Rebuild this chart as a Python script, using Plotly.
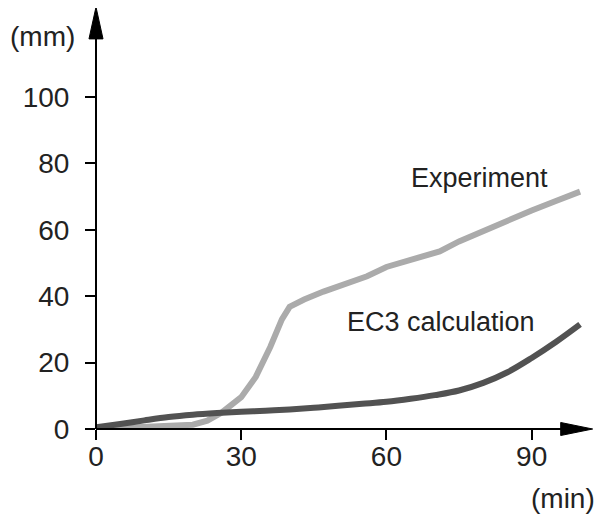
import plotly.graph_objects as go

# deflection curves
time_exp = [0, 10, 20, 23, 26, 30, 33, 36, 38.4, 40, 43, 47, 52.5, 56, 60, 65, 71, 75, 80, 85, 90, 95, 100]
defl_exp = [0, 0.6, 1.3, 2.5, 5, 9.6, 15.7, 24.7, 33, 36.8, 39, 41.4, 44, 46, 48.8, 51, 53.5, 56.5, 59.7, 62.8, 65.8, 68.7, 71.5]

time_ec3 = [0, 5, 10, 15, 20, 25, 30, 35, 40, 45, 50, 55, 60, 65, 70, 75, 80, 85, 90, 95, 100]
defl_ec3 = [0.5, 1.5, 2.6, 3.6, 4.3, 4.8, 5.2, 5.5, 5.9, 6.4, 7, 7.6, 8.2, 9.1, 10.2, 11.6, 13.9, 17.1, 21.4, 26.2, 31.5]

x_ticks = [0, 30, 60, 90]
y_ticks = [0, 20, 40, 60, 80, 100]

px_x = 4.843   # pixels per minute
px_y = 3.32    # pixels per mm
x0_px = 88     # origin inside the figure (page adds 8px body margin)
y0_px = 421
x_max = 103.5
y_max = y0_px / px_y

fnt = "Liberation Sans, Arial, sans-serif"


def px(x):
    return x / x_max


def py(y):
    return y / y_max


fig = go.Figure()
fig.add_trace(go.Scatter(x=time_exp, y=defl_exp, mode="lines",
                         line=dict(color="#ababab", width=6), cliponaxis=False))
fig.add_trace(go.Scatter(x=time_ec3, y=defl_ec3, mode="lines",
                         line=dict(color="#525252", width=6, shape="spline", smoothing=1.0),
                         cliponaxis=False))

# axis lines with arrow heads (paper refs so nothing gets clipped)
fig.add_shape(type="line", xref="paper", yref="paper", x0=0, y0=0, x1=px(97), y1=0,
              line=dict(color="black", width=2))
fig.add_shape(type="line", xref="paper", yref="paper", x0=0, y0=0, x1=0, y1=py(118),
              line=dict(color="black", width=2))
fig.add_shape(type="path", xref="paper", yref="paper",
              path=f"M {px(96)},{py(-1.96)} L {px(102.6)},0 L {px(96)},{py(1.96)} Z",
              fillcolor="black", line=dict(color="black", width=1))
fig.add_shape(type="path", xref="paper", yref="paper",
              path=f"M {px(-1.45)},{py(117.5)} L 0,{py(127.1)} L {px(1.45)},{py(117.5)} Z",
              fillcolor="black", line=dict(color="black", width=1))

fig.add_annotation(x=(480 - 96) / px_x, y=(429 - 178) / px_y, text="Experiment",
                   showarrow=False, font=dict(size=27, color="#222"))
fig.add_annotation(x=(441 - 96) / px_x, y=(429 - 322) / px_y, text="EC3 calculation",
                   showarrow=False, font=dict(size=27, color="#222"))
fig.add_annotation(x=px((42 - 96) / px_x), y=py((429 - 36) / px_y), xref="paper", yref="paper",
                   xanchor="center", yanchor="middle",
                   text="(mm)", showarrow=False, font=dict(size=28, color="#222"))
fig.add_annotation(x=px((563 - 96) / px_x), y=py((429 - 499) / px_y), xref="paper", yref="paper",
                   xanchor="center", yanchor="middle",
                   text="(min)", showarrow=False, font=dict(size=28, color="#222"))

fig.update_xaxes(range=[0, x_max], tickvals=x_ticks, ticks="outside", ticklen=10,
                 tickwidth=1.5, tickcolor="black", showgrid=False, zeroline=False,
                 showline=False, automargin=False,
                 tickfont=dict(size=28, color="#222", family=fnt), ticklabelstandoff=-8)
fig.update_yaxes(range=[0, y_max], tickvals=y_ticks, ticks="outside", ticklen=10,
                 tickwidth=1.5, tickcolor="black", showgrid=False, zeroline=False,
                 showline=False, automargin=False,
                 tickfont=dict(size=28, color="#222", family=fnt), ticklabelstandoff=10)

fig.update_layout(width=605, height=521, showlegend=False,
                  margin=dict(l=x0_px, r=605 - x0_px - x_max * px_x, t=0, b=521 - y0_px),
                  plot_bgcolor="white", paper_bgcolor="white",
                  font=dict(family=fnt))

fig.write_html("out.html")
